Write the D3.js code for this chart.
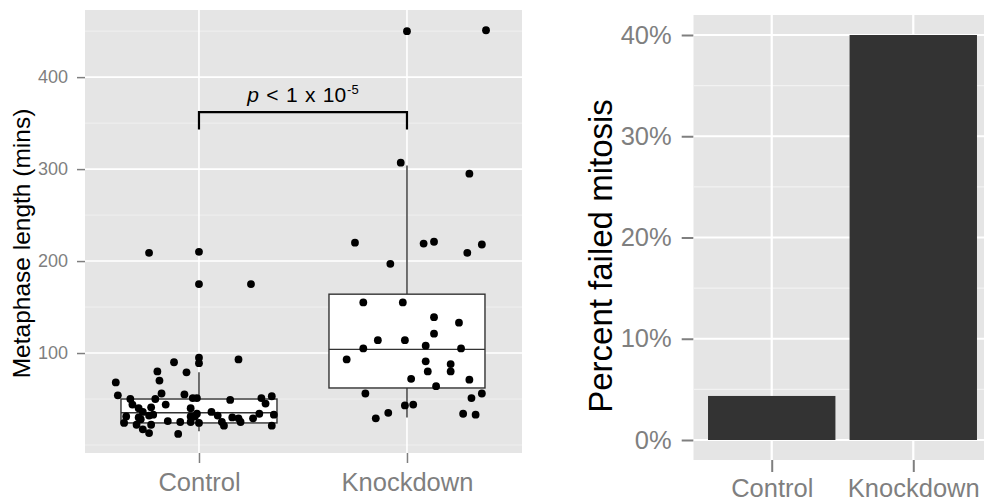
<!DOCTYPE html>
<html>
<head>
<meta charset="utf-8">
<script src="https://cdn.jsdelivr.net/npm/d3@7"></script>
<style>
  body { margin: 0; background: #fff; }
  text { font-family: "Liberation Sans", Arial, Helvetica, sans-serif; }
</style>
</head>
<body>
<div id="chart"></div>
<script>
// ---- data ----
const groups = ["Control", "Knockdown"];

// metaphase length (mins) and horizontal jitter (in category units)
const controlMins = [209, 210, 175, 175, 95, 89, 93, 90, 80, 79, 70, 68, 54, 56, 50, 50, 55, 51, 44, 44,
    41, 40, 36, 33, 40, 31, 32, 30, 28, 31, 25, 24, 22, 26, 25, 22, 17, 13, 12, 51,
    49, 51, 53, 45, 34, 36, 32, 30, 29, 34, 29, 33, 24, 21, 25, 21, 25, 31];
const controlJitter = [-0.24, 0, 0, 0.25, 0, 0, 0.19, -0.12, -0.20, -0.06, -0.19, -0.40, -0.39, -0.18, -0.21, -0.33, -0.07, -0.03, -0.32, -0.16,
    -0.23, -0.29, -0.27, -0.22, -0.04, -0.35, -0.24, -0.29, -0.28, -0.04, -0.04, -0.36, -0.30, -0.15, -0.09, -0.23, -0.27, -0.24, -0.10, -0.01,
    0.15, 0.30, 0.35, 0.32, -0.01, 0.06, 0.09, 0.16, 0.19, 0.29, 0.26, 0.36, 0.00, 0.12, 0.20, 0.35, 0.11, -0.02];

const knockdownMins = [220, 219, 221, 218, 209, 197, 155, 155, 139, 133, 121, 114, 114, 108, 105, 105, 93, 91, 88, 80,
    80, 72, 71, 64, 56, 56, 51, 43, 44, 35, 29, 34, 33, 450, 451, 307, 295];
const knockdownJitter = [-0.25, 0.08, 0.13, 0.36, 0.29, -0.08, -0.21, -0.02, 0.13, 0.25, 0.13, -0.14, -0.01, 0.09, -0.21, 0.26, -0.29, 0.09, 0.21, 0.21,
    0.10, 0.02, 0.30, 0.14, -0.20, 0.36, 0.31, -0.01, 0.03, -0.09, -0.15, 0.27, 0.33, 0.00, 0.38, -0.03, 0.30];

// box stats: [lower whisker, q1, median, q3, upper whisker]
const controlBox = [15, 24, 35, 50, 79];
const knockdownBox = [30, 62, 104, 164, 304];

// significance bracket
const bracketTop = 362;
const bracketBottom = 343;

// percent failed mitosis
const failedPct = [4.35, 40];

const yTicksLeft = [100, 200, 300, 400];
const yMinorLeft = [0, 50, 150, 250, 350, 450];
const yTicksRight = [0, 10, 20, 30, 40];
const yMinorRight = [5, 15, 25, 35];

// ---- layout ----
const W = 984, H = 502;
const grey = "#7f7f7f";
const panelBg = "#e5e5e5";

const svg = d3.select("#chart").append("svg")
    .attr("width", W)
    .attr("height", H)
    .attr("viewBox", [0, 0, W, H]);

// ===== left panel =====
const L = {left: 85, right: 522, top: 10, bottom: 453};
const xL = d3.scaleLinear().domain([0.452, 2.553]).range([L.left, L.right]);
const yL = d3.scaleLinear().domain([-8.7, 473]).range([L.bottom, L.top]);

svg.append("clipPath").attr("id", "clipL")
    .append("rect").attr("x", L.left).attr("y", L.top)
    .attr("width", L.right - L.left).attr("height", L.bottom - L.top);

const gl = svg.append("g").attr("clip-path", "url(#clipL)");
gl.append("rect")
    .attr("x", L.left).attr("y", L.top)
    .attr("width", L.right - L.left).attr("height", L.bottom - L.top)
    .attr("fill", panelBg);

gl.selectAll(".minor").data(yMinorLeft).join("line")
    .attr("x1", L.left).attr("x2", L.right)
    .attr("y1", d => yL(d)).attr("y2", d => yL(d))
    .attr("stroke", "#f2f2f2").attr("stroke-width", 0.8);
gl.selectAll(".major").data(yTicksLeft).join("line")
    .attr("x1", L.left).attr("x2", L.right)
    .attr("y1", d => yL(d)).attr("y2", d => yL(d))
    .attr("stroke", "#fff").attr("stroke-width", 1.6);
gl.selectAll(".vmajor").data([1, 2]).join("line")
    .attr("x1", d => xL(d)).attr("x2", d => xL(d))
    .attr("y1", L.top).attr("y2", L.bottom)
    .attr("stroke", "#fff").attr("stroke-width", 1.6);

// boxplots
const boxes = [controlBox, knockdownBox];
const boxW = 0.75;
boxes.forEach((b, i) => {
    const c = i + 1;
    const g = gl.append("g").attr("stroke", "#333").attr("stroke-width", 1.4);
    g.append("line")
        .attr("x1", xL(c)).attr("x2", xL(c))
        .attr("y1", yL(b[0])).attr("y2", yL(b[1]));
    g.append("line")
        .attr("x1", xL(c)).attr("x2", xL(c))
        .attr("y1", yL(b[3])).attr("y2", yL(b[4]));
    g.append("rect")
        .attr("x", xL(c - boxW / 2)).attr("width", xL(c + boxW / 2) - xL(c - boxW / 2))
        .attr("y", yL(b[3])).attr("height", yL(b[1]) - yL(b[3]))
        .attr("fill", "#fff");
    g.append("line")
        .attr("x1", xL(c - boxW / 2)).attr("x2", xL(c + boxW / 2))
        .attr("y1", yL(b[2])).attr("y2", yL(b[2]));
});

// jittered points
const pts = [];
controlMins.forEach((v, i) => pts.push({x: 1 + controlJitter[i], y: v}));
knockdownMins.forEach((v, i) => pts.push({x: 2 + knockdownJitter[i], y: v}));
gl.selectAll(".pt").data(pts).join("circle")
    .attr("cx", d => xL(d.x)).attr("cy", d => yL(d.y))
    .attr("r", 3.9).attr("fill", "#000");

// bracket
gl.append("path")
    .attr("d", `M${xL(1)},${yL(bracketBottom)}V${yL(bracketTop)}H${xL(2)}V${yL(bracketBottom)}`)
    .attr("fill", "none").attr("stroke", "#000").attr("stroke-width", 2.2);

const ptxt = svg.append("text")
    .attr("x", (xL(1) + xL(2)) / 2).attr("y", yL(bracketTop) - 10)
    .attr("text-anchor", "middle")
    .attr("font-size", 21).attr("fill", "#000")
    .attr("word-spacing", 1.5);
ptxt.append("tspan").attr("font-style", "italic").text("p");
ptxt.append("tspan").text(" < 1 x 10");
ptxt.append("tspan").attr("font-size", 13).attr("dy", -8).attr("dx", 1).text("-5");

// axes
const axL = svg.append("g").attr("transform", `translate(${L.left},0)`)
    .call(d3.axisLeft(yL).tickValues(yTicksLeft).tickSize(8).tickPadding(9));
axL.select(".domain").remove();
axL.selectAll(".tick line").attr("stroke", grey).attr("stroke-width", 1.5);
axL.selectAll(".tick text").attr("fill", grey).attr("font-size", 18)
    .attr("font-family", "Liberation Sans, Arial, sans-serif");

const axLb = svg.append("g").attr("transform", `translate(0,${L.bottom})`)
    .call(d3.axisBottom(xL).tickValues([1, 2]).tickFormat(d => groups[d - 1]).tickSize(10).tickPadding(10));
axLb.select(".domain").remove();
axLb.selectAll(".tick line").attr("stroke", grey).attr("stroke-width", 1.5);
axLb.selectAll(".tick text").attr("fill", grey).attr("font-size", 25.5)
    .attr("font-family", "Liberation Sans, Arial, sans-serif");

svg.append("text")
    .attr("transform", `translate(30,${(L.top + L.bottom) / 2 + 12}) rotate(-90)`)
    .attr("text-anchor", "middle")
    .attr("font-size", 24.5).attr("fill", "#000")
    .text("Metaphase length (mins)");

// ===== right panel =====
const R = {left: 693.3, right: 991.7, top: 15, bottom: 460};
const xR = d3.scaleLinear().domain([0.446, 2.554]).range([R.left, R.right]);
const yR = d3.scaleLinear().domain([-2, 42]).range([460.25, 14.75]);

svg.append("clipPath").attr("id", "clipR")
    .append("rect").attr("x", R.left).attr("y", R.top)
    .attr("width", R.right - R.left).attr("height", R.bottom - R.top);

const gr = svg.append("g").attr("clip-path", "url(#clipR)");
gr.append("rect")
    .attr("x", R.left).attr("y", R.top)
    .attr("width", R.right - R.left).attr("height", R.bottom - R.top)
    .attr("fill", panelBg);
gr.selectAll(".minor").data(yMinorRight).join("line")
    .attr("x1", R.left).attr("x2", R.right)
    .attr("y1", d => yR(d)).attr("y2", d => yR(d))
    .attr("stroke", "#f2f2f2").attr("stroke-width", 1.1);
gr.selectAll(".major").data(yTicksRight).join("line")
    .attr("x1", R.left).attr("x2", R.right)
    .attr("y1", d => yR(d)).attr("y2", d => yR(d))
    .attr("stroke", "#fff").attr("stroke-width", 2.2);
gr.selectAll(".vmajor").data([1, 2]).join("line")
    .attr("x1", d => xR(d)).attr("x2", d => xR(d))
    .attr("y1", R.top).attr("y2", R.bottom)
    .attr("stroke", "#fff").attr("stroke-width", 2.2);

const barW = 0.9;
gr.selectAll(".bar").data(failedPct).join("rect")
    .attr("x", (d, i) => xR(i + 1 - barW / 2))
    .attr("width", (d, i) => xR(i + 1 + barW / 2) - xR(i + 1 - barW / 2))
    .attr("y", d => yR(d))
    .attr("height", d => yR(0) - yR(d))
    .attr("fill", "#333");

const axR = svg.append("g").attr("transform", `translate(${R.left},0)`)
    .call(d3.axisLeft(yR).tickValues(yTicksRight).tickFormat(d => d + "%").tickSize(11.6).tickPadding(10));
axR.select(".domain").remove();
axR.selectAll(".tick line").attr("stroke", grey).attr("stroke-width", 2);
axR.selectAll(".tick text").attr("fill", grey).attr("font-size", 25.5)
    .attr("font-family", "Liberation Sans, Arial, sans-serif");

const axRb = svg.append("g").attr("transform", `translate(0,${R.bottom})`)
    .call(d3.axisBottom(xR).tickValues([1, 2]).tickFormat(d => groups[d - 1]).tickSize(12).tickPadding(6.5));
axRb.select(".domain").remove();
axRb.selectAll(".tick line").attr("stroke", grey).attr("stroke-width", 2);
axRb.selectAll(".tick text").attr("fill", grey).attr("font-size", 25.5)
    .attr("font-family", "Liberation Sans, Arial, sans-serif");

svg.append("text")
    .attr("transform", `translate(612,256) rotate(-90)`)
    .attr("text-anchor", "middle")
    .attr("font-size", 33).attr("fill", "#000")
    .text("Percent failed mitosis");
</script>
</body>
</html>
